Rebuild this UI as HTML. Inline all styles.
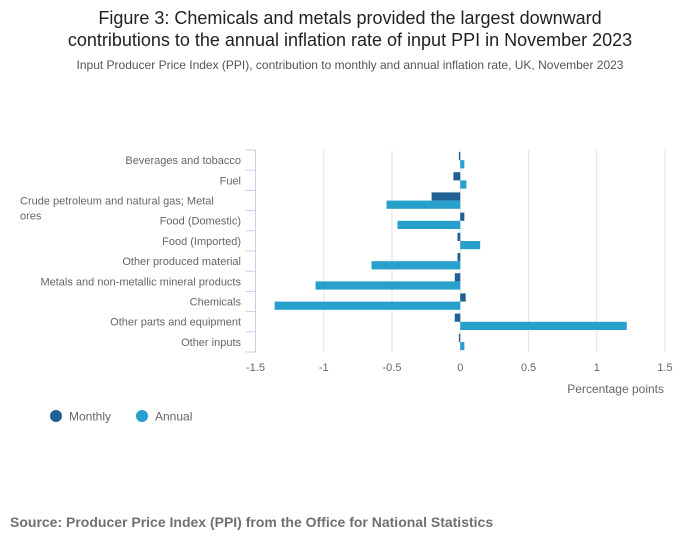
<!DOCTYPE html>
<html><head><meta charset="utf-8"><style>
body{margin:0;width:700px;height:549px;background:#fff;font-family:"Liberation Sans",sans-serif;overflow:hidden}
</style></head><body>
<svg width="700" height="549" font-family="Liberation Sans, sans-serif">
<text x="350" y="24" text-anchor="middle" font-size="18" fill="#222">Figure 3: Chemicals and metals provided the largest downward</text>
<text x="350" y="46" text-anchor="middle" font-size="18" fill="#222">contributions to the annual inflation rate of input PPI in November 2023</text>
<text x="350" y="69" text-anchor="middle" font-size="12" fill="#555">Input Producer Price Index (PPI), contribution to monthly and annual inflation rate, UK, November 2023</text>
<g id="plot"></g>
<text x="664" y="393" text-anchor="end" font-size="12" fill="#666">Percentage points</text>
<circle cx="56" cy="416" r="6" fill="#206095"/>
<text x="69" y="420.5" font-size="12" fill="#666">Monthly</text>
<circle cx="142" cy="416" r="6" fill="#27a0cc"/>
<text x="155" y="420.5" font-size="12" fill="#666">Annual</text>
<text x="10" y="527" font-size="14" font-weight="bold" fill="#707070">Source: Producer Price Index (PPI) from the Office for National Statistics</text>
</svg>
<script>
const categories=["Beverages and tobacco","Fuel","Crude petroleum and natural gas; Metal ores","Food (Domestic)","Food (Imported)","Other produced material","Metals and non-metallic mineral products","Chemicals","Other parts and equipment","Other inputs"];
const monthly=[-0.01,-0.05,-0.21,0.03,-0.02,-0.02,-0.04,0.04,-0.04,-0.01];
const annual=[0.03,0.045,-0.54,-0.46,0.146,-0.65,-1.06,-1.36,1.22,0.03];
const ticks=[-1.5,-1,-0.5,0,0.5,1,1.5];
const tickLabels=["-1.5","-1","-0.5","0","0.5","1","1.5"];
const NS="http://www.w3.org/2000/svg";
const g=document.getElementById('plot');
const x0=255.5,x1=665,yTop=150,yBot=352;
const xs=v=>x0+(v+1.5)/3*(x1-x0);
const rowH=(yBot-yTop)/categories.length;
function mk(t,a){const e=document.createElementNS(NS,t);for(const k in a)e.setAttribute(k,a[k]);g.appendChild(e);return e;}
ticks.forEach((t,i)=>{
 if(t!==-1.5){const l=mk('line',{x1:xs(t),x2:xs(t),y1:yTop,y2:yBot,stroke:'#e2e2e2','stroke-width':1});
 
 }
 const tx=mk('text',{x:xs(t),y:371,'text-anchor':'middle','font-size':11,fill:'#666'});
 tx.textContent=tickLabels[i];
 
 
});
const ax=mk('line',{x1:x0,x2:x0,y1:yTop,y2:yBot,stroke:'#c6cfe6','stroke-width':1});


for(let i=0;i<=categories.length;i++){
 const y=yTop+i*rowH;
 const tk=mk('line',{x1:x0-10,x2:x0,y1:y,y2:y,stroke:'#c6cfe6','stroke-width':1});
 
 
}
categories.forEach((c,i)=>{
 const yc=yTop+i*rowH+rowH/2;
 let lines=[c];
 if(c.startsWith("Crude")) lines=["Crude petroleum and natural gas; Metal","ores"];
 if(lines.length===1){
  const t=mk('text',{x:241,y:yc+4,'text-anchor':'end','font-size':11,fill:'#666'});t.textContent=c;
  
  
 } else {
  const t=mk('text',{x:20,y:yc+4,'font-size':11,fill:'#666'});t.textContent=lines[0];
  
  
  const t2=mk('text',{x:20,y:yc+19,'font-size':11,fill:'#666'});t2.textContent=lines[1];
  
  
 }
 const y0=yTop+i*rowH+2;
 const bw=8.2;
 [[monthly[i],'#206095',y0,'bar-monthly'],[annual[i],'#27a0cc',y0+bw,'bar-annual']].forEach(([v,col,y,n])=>{
  const a=xs(0),b=xs(v);
  const r=mk('rect',{x:Math.min(a,b),y:y,width:Math.max(Math.abs(b-a),1),height:bw,fill:col});
  
  
 });
});
</script>
</body></html>
